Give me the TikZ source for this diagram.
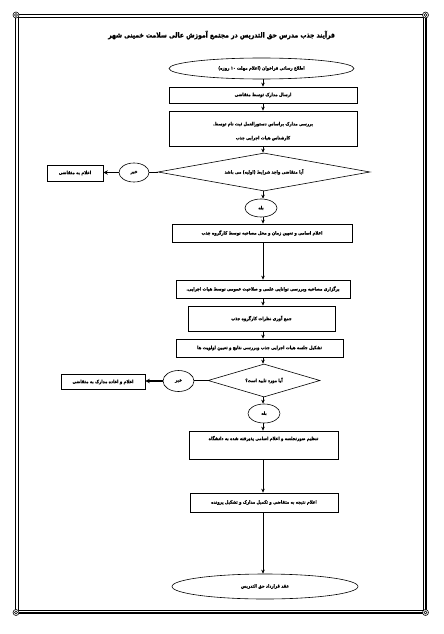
\documentclass[tikz,border=0pt]{standalone}
\usepackage{fontspec}
\usetikzlibrary{shapes.geometric,arrows.meta}
\TeXXeTstate=1
\newfontfamily\fa[Script=Arabic, FakeStretch=0.85, BoldFeatures={FakeBold=1}]{DejaVu Sans}
\newcommand{\rtl}[1]{\beginR #1\endR}
\tikzset{
  txt/.style={font=\fa\bfseries\fontsize{4.6}{14}\selectfont, align=center},
  stepbox/.style={draw, rectangle, line width=0.7pt, inner sep=1pt, txt},
  oval/.style={draw, ellipse, line width=0.6pt, inner sep=0pt, txt},
  decision/.style={draw, diamond, line width=0.6pt, inner sep=0pt, txt},
  arr/.style={line width=0.7pt, -{Stealth[length=4pt,width=3.5pt]}},
  harr/.style={line width=1.3pt, -{Stealth[length=4.5pt,width=4.5pt]}},
  plainline/.style={line width=0.6pt},
  corner/.style={draw, circle, fill=white, line width=0.6pt, minimum size=6pt, inner sep=0pt},
}
\begin{document}
\begin{tikzpicture}[x=1pt,y=-1pt]
\useasboundingbox (0,0) rectangle (444,634);
% frame
\draw[line width=1.5pt] (15.5,14.5) rectangle (426,613);
\draw[line width=0.7pt] (18.5,17.5) rectangle (423,610);
\foreach \p/\n in {{(16,15)}/c1,{(425.5,15)}/c2,{(16,612.5)}/c3,{(425.5,612.5)}/c4}{
  \node[corner] (\n) at \p {};
  \draw[line width=0.5pt] (\n.center) circle (1.5pt);
}
% title
\node[font=\fa\bfseries\fontsize{7.2}{9}\selectfont] (title) at (221.5,35) {\rtl{فرآیند جذب مدرس حق التدریس در مجتمع آموزش عالی سلامت خمینی شهر}};
\coordinate (X) at (263,0);
% nodes
\node[oval, minimum width=185pt, minimum height=21pt] (start) at (261.5,68.5) {\rtl{اطلاع رسانی فراخوان (اعلام مهلت \beginL ۱۰\endL{} روزه)}};
\node[stepbox, minimum width=188pt, minimum height=16pt] (b1) at (263,95) {\rtl{ارسال مدارک توسط متقاضی}};
\node[stepbox, minimum width=188pt, minimum height=35pt] (b2) at (263,128.5) {\mbox{}\\[-5pt]\rtl{بررسی مدارک براساس دستورالعمل ثبت نام توسط.}\\\rtl{کارشناس هیات اجرایی جذب}};
\node[decision, minimum width=212pt, minimum height=38pt, aspect=5.58] (d1) at (264,172) {\rtl{آیا متقاضی واجد شرایط (اولیه) می باشد}};
\node[oval, minimum width=30pt, minimum height=19pt] (no1) at (134,172.5) {\rtl{خیر}};
\node[stepbox, minimum width=56pt, minimum height=16pt] (r1) at (75,173) {\rtl{اعلام به متقاضی}};
\node[oval, minimum width=32pt, minimum height=18pt] (yes1) at (261,208) {\rtl{بله}};
\node[stepbox, minimum width=180pt, minimum height=18pt] (b3) at (262,233) {\rtl{اعلام اسامی و تعیین زمان و محل مصاحبه توسط کارگروه جذب}};
\node[stepbox, minimum width=174pt, minimum height=18pt] (b4) at (263,289) {\rtl{برگزاری مصاحبه وبررسی توانایی علمی و صلاحیت عمومی توسط هیات اجرایی.}};
\node[stepbox, minimum width=147pt, minimum height=25pt] (b5) at (261.5,318.5) {\rtl{جمع آوری نظرات کارگروه جذب}};
\node[stepbox, minimum width=167pt, minimum height=18pt] (b6) at (259.5,348) {\rtl{تشکیل جلسه هیات اجرایی جذب وبررسی نتایج و تعیین اولویت ها}};
\node[decision, minimum width=112pt, minimum height=33pt, aspect=3.4] (d2) at (264,380.5) {\rtl{آیا مورد تایید است؟}};
\node[oval, minimum width=31pt, minimum height=21pt] (no2) at (178.5,381) {\rtl{خیر}};
\node[stepbox, minimum width=84pt, minimum height=15pt] (r2) at (103,382) {\rtl{اعلام و اعاده مدارک به متقاضی}};
\node[oval, minimum width=32pt, minimum height=19pt] (yes2) at (264,413.5) {\rtl{بله}};
\node[stepbox, minimum width=149pt, minimum height=28pt] (b7) at (263.5,445) {\rtl{تنظیم صورتجلسه و اعلام اسامی پذیرفته شده به دانشگاه}\\\mbox{}};
\node[stepbox, minimum width=148pt, minimum height=19pt] (b8) at (264,502.5) {\rtl{اعلام نتیجه به متقاضی و تکمیل مدارک و تشکیل پرونده}};
\node[oval, minimum width=186pt, minimum height=25pt] (end) at (265,586.5) {\rtl{عقد قرارداد حق التدریس}};
% trunk connectors
\draw[arr] (start.south -| X) -- (b1.north -| X);
\draw[arr] (b1.south -| X) -- (b2.north -| X);
\draw[arr] (b2.south -| X) -- (d1.north -| X);
\draw[arr] (d1.south -| X) -- (yes1.north -| X);
\draw[arr] (yes1.south -| X) -- (b3.north -| X);
\draw[arr] (b3.south -| X) -- (b4.north -| X);
\draw[arr] (b4.south -| X) -- (b5.north -| X);
\draw[arr] (b5.south -| X) -- (b6.north -| X);
\draw[arr] (b6.south -| X) -- (d2.north -| X);
\draw[arr] (d2.south -| X) -- (yes2.north -| X);
\draw[arr] (yes2.south -| X) -- (b7.north -| X);
\draw[arr] (b7.south -| X) -- (b8.north -| X);
\draw[arr] (b8.south -| X) -- (end.north -| X);
% no branches
\draw[plainline] (d1.west) -- (d1.west -| no1.east);
\draw[harr] (no1.west) -- (no1.west -| r1.east);
\draw[plainline] (d2.west) -- (d2.west -| no2.east);
\draw[harr] (no2.west) -- (no2.west -| r2.east);
\end{tikzpicture}
\end{document}
